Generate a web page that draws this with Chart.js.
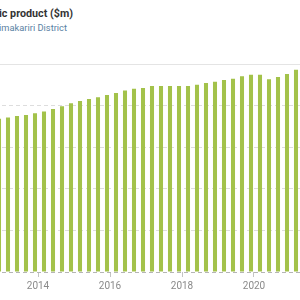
<!DOCTYPE html>
<html>
<head>
<meta charset="utf-8">
<script src="https://cdn.jsdelivr.net/npm/chart.js@4"></script>
<style>
  html, body { margin:0; padding:0; width:300px; height:300px; overflow:hidden; background:#fff; }
  body { position:relative; font-family: Roboto, "Noto Sans", sans-serif; }
  .ttl { position:absolute; white-space:nowrap; }
  #title { right:calc(100% - 73px); top:7px; font-size:10.75px; font-weight:bold; color:#333; }
  #subtitle { right:calc(100% - 67px); top:22px; font-size:9.3px; color:#5a82a3; }
  #wrap { position:absolute; left:-40px; top:0; width:380px; height:300px; }
</style>
</head>
<body>
<div id="title" class="ttl">Gross domestic product ($m)</div>
<div id="subtitle" class="ttl">Waimakariri District</div>
<div id="wrap"><canvas id="gdpChart"></canvas></div>
<script>
// quarter ends (year-month)
const periods = [
  '2012-12','2013-03','2013-06','2013-09','2013-12','2014-03','2014-06','2014-09',
  '2014-12','2015-03','2015-06','2015-09','2015-12','2016-03','2016-06','2016-09',
  '2016-12','2017-03','2017-06','2017-09','2017-12','2018-03','2018-06','2018-09',
  '2018-12','2019-03','2019-06','2019-09','2019-12','2020-03','2020-06','2020-09',
  '2020-12','2021-03'
];
// GDP, $m
const gdpValues = [
  1841, 1856, 1876, 1888, 1909, 1928, 1960, 1993,
  2029, 2056, 2080, 2101, 2128, 2152, 2180, 2204,
  2212, 2236, 2236, 2236, 2236, 2236, 2252, 2272,
  2288, 2308, 2324, 2352, 2372, 2372, 2317, 2344,
  2380, 2432
];
const yearTicks = [2014, 2016, 2018, 2020];

// period -> decimal year for the linear x axis
const points = periods.map((p, i) => {
  const parts = p.split('-');
  return { x: parseInt(parts[0]) + (parseInt(parts[1]) - 1) / 12, y: gdpValues[i] };
});

const xMin = 2011.8333, xMax = 2022.3889;

const ctx = document.getElementById('gdpChart').getContext('2d');
new Chart(ctx, {
  type: 'bar',
  data: {
    datasets: [{
      label: 'GDP ($m)',
      data: points,
      backgroundColor: '#a3c24a',
      barPercentage: 0.45,
      categoryPercentage: 1
    }]
  },
  options: {
    responsive: true,
    maintainAspectRatio: false,
    animation: false,
    layout: { padding: { top: 56, bottom: 5, left: 0, right: 0 } },
    plugins: { legend: { display: false }, tooltip: { enabled: false } },
    scales: {
      x: {
        type: 'linear',
        offset: false,
        min: xMin,
        max: xMax,
        afterBuildTicks: scale => {
          scale.ticks = yearTicks.map(v => ({ value: v }));
        },
        ticks: {
          color: '#8a8a8a',
          font: { family: 'Roboto', size: 10 },
          padding: 3,
          maxRotation: 0,
          callback: v => String(v)
        },
        grid: { offset: false, drawOnChartArea: false, drawTicks: true, tickLength: 5, tickColor: '#c4c4c4' },
        border: { display: false }
      },
      x2: {
        type: 'linear',
        position: 'top',
        offset: false,
        min: xMin,
        max: xMax,
        ticks: { display: false },
        grid: { display: false },
        border: { display: true, color: '#e4e4e4', width: 1 }
      },
      y: {
        min: 0,
        max: 2500,
        ticks: { display: false, stepSize: 500 },
        grid: {
          drawTicks: false,
          color: c => c.tick.value === 0 ? '#b5b5b5' : (c.tick.value === 2500 ? 'rgba(0,0,0,0)' : '#dddddd')
        },
        border: { display: false, dash: [4, 3] }
      }
    }
  }
});
</script>
</body>
</html>
